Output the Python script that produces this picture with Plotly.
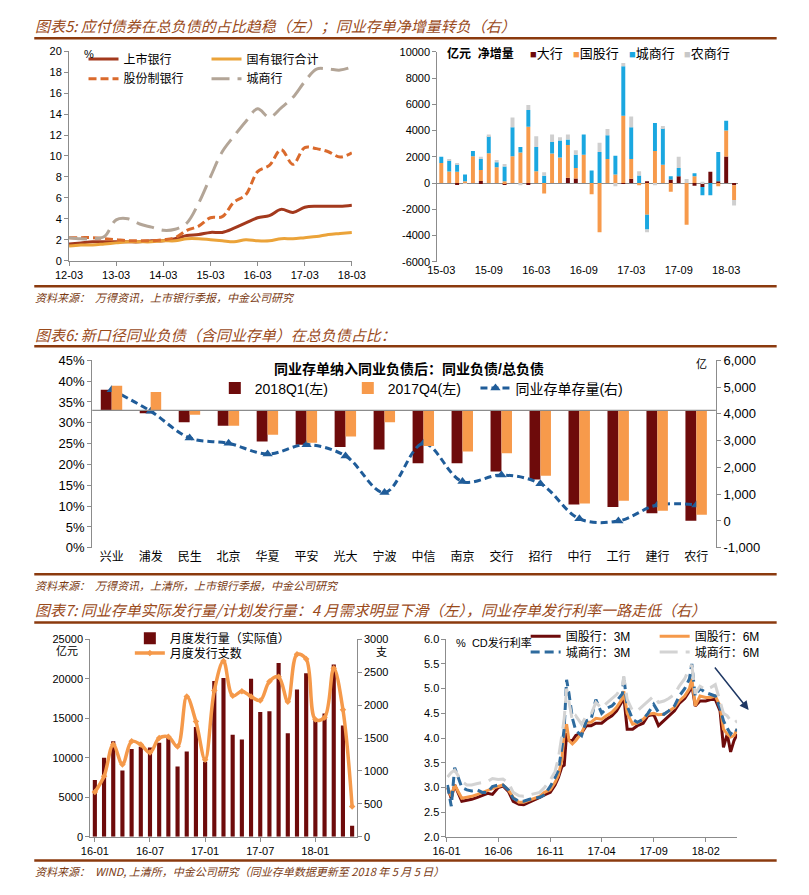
import plotly.graph_objects as go

W, H = 809, 895
def px(x): return x / W
def py(y): return 1 - y / H

FONT = "Liberation Sans, Noto Sans CJK SC, sans-serif"
CJK = "Noto Sans CJK SC, sans-serif"
NARROW = "Liberation Sans Narrow, Liberation Sans, Noto Sans CJK SC, sans-serif"
TITLE_C = "#9A4A1A"
RULE_C = "#8B3A0E"
AXIS_C = "#8C8C8C"

# ---------------- data: chart 5 left ----------------
quarters = ["12-03","12-06","12-09","12-12","13-03","13-06","13-09","13-12",
            "14-03","14-06","14-09","14-12","15-03","15-06","15-09","15-12",
            "16-03","16-06","16-09","16-12","17-03","17-06","17-09","17-12","18-03"]
q_ticks = ["12-03","13-03","14-03","15-03","16-03","17-03","18-03"]
listed = [1.6,1.7,1.8,1.8,1.8,1.8,1.8,1.9,1.9,2.1,2.4,2.5,2.7,2.7,3.1,3.6,4.1,4.3,4.9,4.6,5.1,5.2,5.2,5.2,5.3]
state = [1.4,1.5,1.5,1.6,1.7,1.8,1.8,1.8,1.9,1.9,2.1,2.1,2.0,1.9,1.8,2.0,1.9,1.9,2.1,2.1,2.2,2.3,2.5,2.6,2.7]
joint = [2.2,2.2,2.2,2.1,2.0,1.9,1.9,1.9,2.0,2.2,2.9,3.3,4.1,4.2,5.6,6.3,8.5,9.1,10.6,9.2,10.8,10.7,10.4,9.9,10.3]
city = [2.2,2.1,2.1,2.3,3.9,4.0,3.5,3.2,2.9,3.0,3.6,5.5,8.0,10.4,11.9,13.3,14.5,13.7,14.6,15.6,17.1,18.3,18.3,18.2,18.5]

# ---------------- data: chart 5 right ----------------
months_cd = ["15-03","15-04","15-05","15-06","15-07","15-08","15-09","15-10","15-11","15-12",
             "16-01","16-02","16-03","16-04","16-05","16-06","16-07","16-08","16-09","16-10",
             "16-11","16-12","17-01","17-02","17-03","17-04","17-05","17-06","17-07","17-08",
             "17-09","17-10","17-11","17-12","18-01","18-02","18-03","18-04"]
m_ticks = ["15-03","15-09","16-03","16-09","17-03","17-09","18-03"]
big4 = [0,0,-100,0,0,150,0,0,-100,0,0,-100,0,0,0,0,400,350,0,0,
        0,0,0,-50,325,0,125,0,0,275,525,0,-200,-300,850,125,2025,-175]
joint_cd = [1525,875,850,125,2050,850,2275,1200,125,2050,2325,4300,900,-800,2250,1950,2500,800,2150,-850,
            -3750,1825,650,5125,1500,-175,-2425,2450,1400,-675,0,-3175,525,0,0,-250,1975,-1125]
city_cd = [475,825,600,525,400,825,1300,375,1125,2200,425,1275,1850,550,875,1300,425,1000,1550,950,
           2375,1825,1425,3775,2425,575,-1125,2125,2800,250,625,0,225,-625,-925,2250,750,0]
rural_cd = [0,100,75,-50,0,175,125,175,200,750,-175,375,825,275,575,250,375,350,0,0,
            700,475,-250,250,825,325,-200,-175,150,0,850,300,0,100,0,0,0,-425]
tr_yvals = [-6000,-4000,-2000,0,2000,4000,6000,8000,10000]
tr_ytext = ["-6000","-4000","-2000","0","2000","4000","6000","8000","10000"]

# ---------------- data: chart 6 ----------------
banks = ["兴业","浦发","民生","北京","华夏","平安","光大","宁波","中信","南京","交行","招行","中行","工行","建行","农行"]
BASE = 0.33
q1_2018 = [0.379,0.323,0.301,0.293,0.255,0.247,0.242,0.236,0.203,0.203,0.183,0.164,0.104,0.098,0.083,0.065]
q4_2017 = [0.389,0.374,0.319,0.293,0.271,0.252,0.267,0.301,0.244,0.231,0.227,0.173,0.106,0.113,0.089,0.079]
cd_stock = [4900,4100,3100,2900,2500,2850,2430,1060,2900,1470,1720,1390,80,0,600,600]
mid_rvals = [-1000,0,1000,2000,3000,4000,5000,6000]
mid_rtext = ["-1,000","0","1,000","2,000","3,000","4,000","5,000","6,000"]

# ---------------- data: chart 7 left ----------------
months_iss = ["16-01","16-02","16-03","16-04","16-05","16-06","16-07","16-08","16-09","16-10",
              "16-11","16-12","17-01","17-02","17-03","17-04","17-05","17-06","17-07","17-08",
              "17-09","17-10","17-11","17-12","18-01","18-02","18-03","18-04","18-05"]
iss_ticks = ["16-01","16-07","17-01","17-07","18-01"]
issue_vol = [7200,10000,12100,8400,11100,11400,11300,11900,12500,8900,10800,13900,9500,19700,20100,
             12900,12300,20000,15800,15900,22000,13100,18650,20700,14850,15600,21800,14100,1400]
issue_cnt = [680,920,1400,1100,1450,1400,1280,1500,1520,1370,2130,1750,1170,2220,2670,
             2140,2210,2130,2070,2360,2430,2050,2770,2700,1780,1810,2560,1930,460]

# ---------------- data: chart 7 right ----------------
rate_dates = ["2016-01-04","2016-01-15","2016-01-25","2016-02-15","2016-03-01","2016-03-15","2016-04-01",
              "2016-04-15","2016-05-01","2016-05-15","2016-06-01","2016-06-15","2016-07-01","2016-07-15",
              "2016-08-01","2016-08-15","2016-09-01","2016-09-15","2016-10-01","2016-10-15","2016-11-01",
              "2016-11-15","2016-11-25","2016-12-05","2016-12-12","2016-12-19","2016-12-26","2017-01-05",
              "2017-01-15","2017-02-01","2017-02-15","2017-03-01","2017-03-15","2017-04-01","2017-04-15",
              "2017-05-01","2017-05-15","2017-06-01","2017-06-05","2017-06-15","2017-07-01","2017-07-15",
              "2017-08-01","2017-08-15","2017-09-01","2017-09-15","2017-10-01","2017-10-15","2017-11-01",
              "2017-11-15","2017-12-01","2017-12-15","2017-12-22","2018-01-01","2018-01-15","2018-02-01",
              "2018-02-15","2018-03-01","2018-03-15","2018-03-25","2018-04-05","2018-04-15","2018-04-25",
              "2018-05-04"]
gg_3m = [3.0,2.78,3.05,2.72,2.74,2.76,2.8,2.84,2.88,2.86,3.0,3.03,2.92,2.72,2.66,2.65,2.7,2.75,2.8,2.85,
         2.9,3.05,3.2,3.42,3.45,4.1,3.95,3.95,4.05,4.1,4.25,4.25,4.3,4.3,4.38,4.45,4.55,4.75,4.85,4.18,
         4.18,4.25,4.3,4.45,4.48,4.25,4.35,4.45,4.55,4.7,4.8,4.95,5.08,4.65,4.75,4.75,4.78,4.78,4.55,3.81,
         4.08,3.72,3.95,4.08]
gg_6m = [3.0,2.82,3.05,2.78,2.8,2.82,2.86,2.9,2.93,2.98,3.02,3.05,2.95,2.8,2.7,2.7,2.75,2.78,2.82,2.9,
         2.95,3.1,3.25,3.55,4.1,4.28,3.95,3.88,3.95,4.1,4.32,4.32,4.4,4.38,4.45,4.52,4.62,4.8,4.95,4.5,
         4.28,4.3,4.38,4.48,4.5,4.47,4.48,4.55,4.62,4.75,4.85,5.0,5.2,4.65,4.85,4.82,4.82,4.85,4.65,4.18,
         4.08,4.02,4.05,4.18]
cs_3m = [3.05,2.62,3.4,3.0,2.95,2.93,2.95,2.9,2.9,3.02,3.05,3.05,2.95,2.78,2.72,2.72,2.76,2.78,2.8,2.85,
         3.02,3.2,3.35,3.8,4.2,5.18,4.9,4.4,4.15,4.05,4.35,4.38,4.78,4.5,4.6,4.65,4.75,4.9,5.25,4.65,
         4.38,4.32,4.38,4.5,4.68,4.52,4.48,4.55,4.65,4.85,5.0,5.2,5.5,4.85,5.0,4.92,4.88,4.85,4.6,4.35,
         4.2,4.08,4.18,4.15]
cs_6m = [3.21,3.3,3.35,3.12,3.05,3.05,3.08,3.1,3.12,3.18,3.16,3.17,3.1,2.9,2.83,2.82,2.85,2.88,2.9,3.0,
         3.15,3.32,3.6,4.05,4.4,5.0,4.75,4.35,4.45,4.28,4.45,4.48,4.72,4.6,4.7,4.8,4.88,5.05,5.25,4.78,
         4.55,4.55,4.65,4.75,4.85,4.72,4.75,4.8,4.88,5.05,5.2,5.42,5.48,4.9,5.05,4.98,5.02,5.08,4.75,4.5,
         4.45,4.35,4.3,4.35]
rate_ticks = ["2016-01-01","2016-06-01","2016-11-01","2017-04-01","2017-09-01","2018-02-01"]
rate_ticktext = ["16-01","16-06","16-11","17-04","17-09","18-02"]

# ---------------- colours ----------------
C_DARK = "#6E0B0B"
C_ORANGE = "#F79A4B"
C_BLUE = "#1AA7E0"
C_GREY = "#CFCFCF"

fig = go.Figure()

# ---- chart 5 left ----
fig.add_trace(go.Scatter(x=quarters, y=listed, name="上市银行", mode="lines", line=dict(color="#A3391D", width=3, shape="spline"), xaxis="x", yaxis="y", legend="legend"))
fig.add_trace(go.Scatter(x=quarters, y=state, name="国有银行合计", mode="lines", line=dict(color="#EBA339", width=3, shape="spline"), xaxis="x", yaxis="y", legend="legend"))
fig.add_trace(go.Scatter(x=quarters, y=joint, name="股份制银行", mode="lines", line=dict(color="#DA6A2C", width=3, dash="8px,4px", shape="spline"), xaxis="x", yaxis="y", legend="legend2"))
fig.add_trace(go.Scatter(x=quarters, y=city, name="城商行", mode="lines", line=dict(color="#B3A597", width=3, dash="18px,8px", shape="spline"), xaxis="x", yaxis="y", legend="legend2"))

# ---- chart 5 right ----
for vals, nm, col in [(big4, "大行", C_DARK), (joint_cd, "国股行", C_ORANGE), (city_cd, "城商行", C_BLUE), (rural_cd, "农商行", C_GREY)]:
    fig.add_trace(go.Bar(x=months_cd, y=vals, name=nm, marker=dict(color=col, line=dict(width=0)), width=0.5, xaxis="x2", yaxis="y2", showlegend=False))

# ---- chart 6 ----
fig.add_trace(go.Bar(x=banks, y=[v - BASE for v in q1_2018], base=BASE, name="2018Q1(左)", marker=dict(color="#6E0B0B", line=dict(width=0)),
                     offset=-0.28, width=0.28, xaxis="x3", yaxis="y3", legend="legend3", customdata=q1_2018, hovertemplate="%{customdata:.1%}"))
fig.add_trace(go.Bar(x=banks, y=[v - BASE for v in q4_2017], base=BASE, name="2017Q4(左)", marker=dict(color=C_ORANGE, line=dict(width=0)),
                     offset=0.0, width=0.27, xaxis="x3", yaxis="y8", legend="legend3", customdata=q4_2017, hovertemplate="%{customdata:.1%}"))
fig.add_trace(go.Scatter(x=banks, y=cd_stock, name="同业存单存量(右)", mode="lines+markers",
                         line=dict(color="#1F5C99", width=3, dash="7px,4px", shape="spline"),
                         marker=dict(symbol="triangle-up", size=9, color="#1F5C99"), xaxis="x3", yaxis="y4", legend="legend8"))

# ---- chart 7 left ----
fig.add_trace(go.Bar(x=months_iss, y=issue_vol, name="月度发行量（实际值）", marker=dict(color=C_DARK, line=dict(width=0)), width=0.45,
                     xaxis="x4", yaxis="y5", legend="legend4"))
fig.add_trace(go.Scatter(x=months_iss, y=issue_cnt, name="月度发行支数", mode="lines+markers",
                         line=dict(color="#F5994A", width=3.5, shape="spline"), marker=dict(symbol="diamond", size=5, color="#F5994A"),
                         xaxis="x4", yaxis="y6", legend="legend5"))

# ---- chart 7 right ----
fig.add_trace(go.Scatter(x=rate_dates, y=gg_3m, name="国股行：3M", mode="lines", line=dict(color=C_DARK, width=3), xaxis="x5", yaxis="y7", legend="legend6"))
fig.add_trace(go.Scatter(x=rate_dates, y=gg_6m, name="国股行：6M", mode="lines", line=dict(color="#F5994A", width=3), xaxis="x5", yaxis="y7", legend="legend6"))
fig.add_trace(go.Scatter(x=rate_dates, y=cs_3m, name="城商行：3M", mode="lines", line=dict(color="#2E6B9E", width=3, dash="9px,5px"), xaxis="x5", yaxis="y7", legend="legend7"))
fig.add_trace(go.Scatter(x=rate_dates, y=cs_6m, name="城商行：6M", mode="lines", line=dict(color="#D3D3D3", width=3, dash="18px,8px"), xaxis="x5", yaxis="y7", legend="legend7"))

tick_font = dict(family=FONT, size=11, color="#000")
ax_common = dict(showgrid=False, zeroline=False, showline=True, linecolor=AXIS_C, linewidth=1, ticks="outside", ticklen=4, tickcolor=AXIS_C, tickfont=tick_font)

def leg(x, y, size=12, entrywidth=None):
    d = dict(x=px(x), y=py(y), xanchor="left", yanchor="middle", orientation="h", bgcolor="rgba(0,0,0,0)",
             font=dict(family=FONT, size=size, color="#000"), itemwidth=30, tracegroupgap=0)
    if entrywidth:
        d.update(entrywidth=entrywidth, entrywidthmode="pixels")
    return d

fig.update_layout(
    width=W, height=H, margin=dict(l=0, r=0, t=0, b=0), autosize=False,
    paper_bgcolor="white", plot_bgcolor="rgba(0,0,0,0)", barmode="relative",
    font=dict(family=FONT, size=11, color="#000"),
    # chart 5 left
    xaxis=dict(ax_common, domain=[px(57), px(350)], anchor="y", type="category", categoryarray=quarters, range=[0, 24], tickvals=q_ticks),
    yaxis=dict(ax_common, domain=[py(258), py(45)], anchor="x", range=[0, 20], dtick=2),
    # chart 5 right
    xaxis2=dict(ax_common, domain=[px(438.5), px(750)], anchor="y2", type="category", categoryarray=months_cd, range=[-0.5, 37.5], tickvals=m_ticks, showline=False, ticks=""),
    yaxis2=dict(ax_common, domain=[py(259), py(45.7)], anchor="x2", range=[-6000, 10000], tickvals=tr_yvals, ticktext=tr_ytext, zeroline=True, zerolinecolor=AXIS_C, zerolinewidth=1),
    # chart 6
    xaxis3=dict(ax_common, domain=[px(81), px(727)], anchor="y3", type="category", categoryarray=banks, range=[-0.5, 15.5], showline=False, ticks="", tickfont=dict(family=CJK, size=12, color="#000")),
    yaxis3=dict(ax_common, domain=[py(550), py(359.3)], anchor="x3", range=[0, 0.45], dtick=0.05, tickformat=".0%", tickfont=dict(family=NARROW, size=13, color="#000")),
    yaxis8=dict(overlaying="y3", anchor="x3", range=[0, 0.45], visible=False),
    yaxis4=dict(ax_common, overlaying="y3", side="right", anchor="x3", range=[-1000, 6000], tickvals=mid_rvals, ticktext=mid_rtext, tickfont=dict(family=NARROW, size=13, color="#000")),
    # chart 7 left
    xaxis4=dict(ax_common, domain=[px(79), px(355)], anchor="y5", type="category", categoryarray=months_iss, range=[-0.5, 28.5], tickvals=iss_ticks),
    yaxis5=dict(ax_common, domain=[py(844), py(643)], anchor="x4", range=[0, 25000], dtick=5000, tickformat="d"),
    yaxis6=dict(ax_common, overlaying="y5", side="right", anchor="x4", range=[0, 3000], dtick=500, tickformat="d"),
    # chart 7 right
    xaxis5=dict(ax_common, domain=[px(448), px(749)], anchor="y7", type="date", range=["2016-01-01", "2018-05-04"], tickvals=rate_ticks, ticktext=rate_ticktext),
    yaxis7=dict(ax_common, domain=[py(844), py(643)], anchor="x5", range=[2.0, 6.0], dtick=0.5, tickformat=".1f"),
    legend=leg(72, 53, 12, 78),
    legend2=leg(72, 73, 12, 78),
    legend3=leg(208, 388, 14, 88),
    legend8=leg(478, 388, 14),
    legend4=leg(120, 642, 12),
    legend5=leg(120, 657, 12),
    legend6=leg(530, 640, 12, 84),
    legend7=leg(530, 656, 12, 84),
)

# decorative rules
shapes = []
for yy in [31.7, 284, 345, 577, 626, 868]:
    shapes.append(dict(type="line", xref="paper", yref="paper", x0=px(21), x1=px(790), y0=py(yy), y1=py(yy), line=dict(color=RULE_C, width=2.5)))
shapes.append(dict(type="line", xref="x3 domain", yref="y3", x0=0, x1=1, y0=BASE, y1=BASE, line=dict(color=AXIS_C, width=1.2), layer="above"))
fig.update_layout(shapes=shapes)

ann = []
def A(x, y, text, size=11, color="#000", family=FONT, anchor="left", italic=False, bold=False):
    t = f"<b>{text}</b>" if bold else text
    f = dict(family=family, size=size, color=color)
    if italic:
        f["style"] = "italic"
    ann.append(dict(x=px(x), y=py(y), xref="paper", yref="paper", text=t, showarrow=False, xanchor=anchor, yanchor="middle", font=f))

A(20, 19, "图表5: 应付债券在总负债的占比趋稳（左）；同业存单净增量转负（右）", 15, TITLE_C, CJK, italic=True)
A(20, 333, "图表6: 新口径同业负债（含同业存单）在总负债占比：", 15, TITLE_C, CJK, italic=True)
A(20, 613, "图表7: 同业存单实际发行量/计划发行量：4 月需求明显下滑（左），同业存单发行利率一路走低（右）", 15, TITLE_C, CJK, italic=True)
A(20, 295, "资料来源：  万得资讯，上市银行季报，中金公司研究", 11, "#7A3A12", CJK, italic=True)
A(20, 588, "资料来源：  万得资讯，上清所，上市银行季报，中金公司研究", 11, "#7A3A12", CJK, italic=True)
A(20, 879, "资料来源：  WIND, 上清所，中金公司研究（同业存单数据更新至 2018 年 5 月 5 日）", 11, "#7A3A12", CJK, italic=True)

A(70, 48, "%", 11)
A(446, 47, "亿元  净增量", 12, bold=True)
for x, nm, col in [(532, "大行", C_DARK), (577, "国股行", C_ORANGE), (635, "城商行", C_BLUE), (692, "农商行", "#C8C8C8")]:
    A(x, 47, f"<span style='color:{col};font-size:11px'>■</span>{nm}", 13)
A(409, 368, "同业存单纳入同业负债后：同业负债/总负债", 14, bold=True, anchor="center")
A(712, 363, "亿", 11, anchor="center")
A(55, 655, "亿元", 11, anchor="center")
A(381, 656, "支", 11, anchor="center")
A(456, 646, "%  CD发行利率", 11)
fig.update_layout(annotations=ann)

fig.add_annotation(x=px(761), y=py(715), xref="paper", yref="paper", ax=-35, ay=-44, showarrow=True,
                   arrowhead=2, arrowsize=1.2, arrowwidth=1.5, arrowcolor="#1F3864", text="")

fig.write_html("out.html", config={"displayModeBar": False},
               post_script="document.body.style.margin='0';document.body.style.overflow='hidden';")
